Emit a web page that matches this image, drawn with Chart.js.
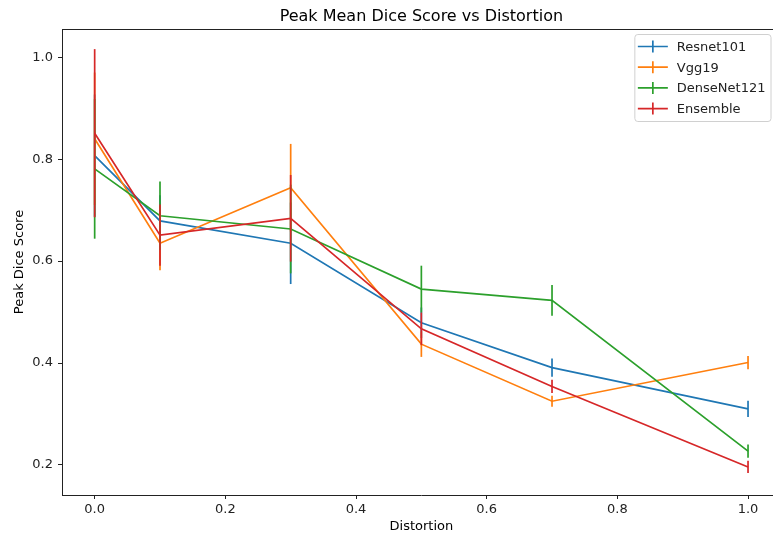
<!DOCTYPE html>
<html>
<head>
<meta charset="utf-8">
<script src="https://cdn.jsdelivr.net/npm/chart.js@4.4.1/dist/chart.umd.min.js"></script>
<style>
  html, body { margin: 0; padding: 0; background: #fff; overflow: hidden; }
  #wrap { width: 773px; height: 537px; overflow: hidden; }
</style>
</head>
<body>
<div id="wrap"><canvas id="graph" width="800" height="537"></canvas></div>
<script>
// distortion levels on the x axis
const distortion = [0.0, 0.1, 0.3, 0.5, 0.7, 1.0];

// peak mean dice per model, with +/- spread for the error bars
const resnetMean = [0.807, 0.679, 0.635, 0.479, 0.391, 0.310];
const resnetErr  = [0.120, 0.050, 0.080, 0.030, 0.018, 0.016];
const vggMean    = [0.840, 0.635, 0.744, 0.437, 0.325, 0.401];
const vggErr     = [0.130, 0.053, 0.086, 0.025, 0.011, 0.013];
const denseMean  = [0.781, 0.689, 0.663, 0.545, 0.523, 0.227];
const denseErr   = [0.137, 0.067, 0.087, 0.046, 0.030, 0.013];
const ensMean    = [0.851, 0.651, 0.684, 0.467, 0.354, 0.196];
const ensErr     = [0.165, 0.060, 0.085, 0.032, 0.013, 0.012];

const xTicks = [0.0, 0.2, 0.4, 0.6, 0.8, 1.0];
const yTicks = [0.2, 0.4, 0.6, 0.8, 1.0];

const FONT = "'DejaVu Sans', sans-serif";
const INK = "#222";

const series = [
  { label: "Resnet101",   mean: resnetMean, err: resnetErr, color: "#1f77b4" },
  { label: "Vgg19",       mean: vggMean,    err: vggErr,    color: "#ff7f0e" },
  { label: "DenseNet121", mean: denseMean,  err: denseErr,  color: "#2ca02c" },
  { label: "Ensemble",    mean: ensMean,    err: ensErr,    color: "#d62728" }
];

const datasets = series.map((s, i) => ({
  label: s.label,
  data: distortion.map((x, j) => ({ x, y: s.mean[j] })),
  err: s.err,
  borderColor: s.color,
  backgroundColor: s.color,
  borderWidth: 1.7,
  pointRadius: 0,
  tension: 0,
  fill: false,
  order: series.length - i   // later series drawn on top
}));

// vertical error bars, drawn right after each line
const errorBars = {
  id: "errorBars",
  afterDatasetDraw(chart, args) {
    const ds = chart.data.datasets[args.index];
    const { ctx, scales: { x, y } } = chart;
    ctx.save();
    ctx.strokeStyle = ds.borderColor;
    ctx.lineWidth = 1.7;
    ds.data.forEach((p, j) => {
      const px = x.getPixelForValue(p.x);
      ctx.beginPath();
      ctx.moveTo(px, y.getPixelForValue(p.y - ds.err[j]));
      ctx.lineTo(px, y.getPixelForValue(p.y + ds.err[j]));
      ctx.stroke();
    });
    ctx.restore();
  }
};

// title, top spine and errorbar-style legend
const decorations = {
  id: "decorations",
  afterDraw(chart) {
    const { ctx, chartArea: a } = chart;
    ctx.save();

    ctx.strokeStyle = INK;
    ctx.lineWidth = 1;
    ctx.beginPath();
    ctx.moveTo(a.left, a.top + 0.5);
    ctx.lineTo(a.right, a.top + 0.5);
    ctx.stroke();

    ctx.fillStyle = "#000";
    ctx.font = "16px " + FONT;
    ctx.textAlign = "center";
    ctx.textBaseline = "alphabetic";
    ctx.fillText("Peak Mean Dice Score vs Distortion", (a.left + a.right) / 2, 21);

    ctx.font = "13px " + FONT;
    const textW = Math.max(...series.map(s => ctx.measureText(s.label).width));
    const w = 42 + textW + 5.5;
    const h = 87;
    const bx = a.right - 9.7 - w;
    const by = a.top + 5.5;
    ctx.beginPath();
    ctx.roundRect(bx, by, w, h, 3);
    ctx.fillStyle = "rgba(255,255,255,0.8)";
    ctx.fill();
    ctx.strokeStyle = "#d0d0d0";
    ctx.stroke();

    ctx.textAlign = "left";
    ctx.textBaseline = "middle";
    series.forEach((s, i) => {
      const cy = by + 12 + i * 20.7;
      ctx.strokeStyle = s.color;
      ctx.lineWidth = 1.7;
      ctx.beginPath();
      ctx.moveTo(bx + 3, cy);
      ctx.lineTo(bx + 33, cy);
      ctx.moveTo(bx + 18, cy - 6);
      ctx.lineTo(bx + 18, cy + 6);
      ctx.stroke();
      ctx.fillStyle = INK;
      ctx.fillText(s.label, bx + 42, cy + 1);
    });
    ctx.restore();
  }
};

const ctx = document.getElementById("graph").getContext("2d");

new Chart(ctx, {
  type: "line",
  data: { datasets },
  options: {
    responsive: false,
    animation: false,
    // plot area runs past the visible 773px, so the right spine is cut off
    layout: { padding: { top: 29, right: 19.3, left: 0, bottom: 0 } },
    scales: {
      x: {
        type: "linear",
        min: -0.05,
        max: 1.05,
        afterBuildTicks: s => { s.ticks = xTicks.map(v => ({ value: v })); },
        afterFit: s => { s.height = 42; },
        ticks: {
          callback: v => v.toFixed(1),
          font: { family: FONT, size: 13 },
          color: INK,
          padding: 3,
          maxRotation: 0,
          autoSkip: false
        },
        grid: { drawOnChartArea: false, drawTicks: true, tickLength: 4, color: INK },
        border: { display: true, color: INK, width: 1 },
        title: {
          display: true,
          text: "Distortion",
          font: { family: FONT, size: 13 },
          color: "#000",
          padding: { top: 4, bottom: 3 }
        }
      },
      y: {
        type: "linear",
        min: 0.141,
        max: 1.0555,
        afterBuildTicks: s => { s.ticks = yTicks.map(v => ({ value: v })); },
        afterFit: s => { s.width = 62; },
        ticks: {
          callback: v => v.toFixed(1),
          font: { family: FONT, size: 13 },
          color: INK,
          padding: 5
        },
        grid: { drawOnChartArea: false, drawTicks: true, tickLength: 4, color: INK },
        border: { display: true, color: INK, width: 1 },
        title: {
          display: true,
          text: "Peak Dice Score",
          font: { family: FONT, size: 13 },
          color: "#000",
          padding: { top: 12, bottom: 0 }
        }
      }
    },
    plugins: {
      legend: { display: false },
      title: { display: false },
      tooltip: { enabled: false }
    }
  },
  plugins: [errorBars, decorations]
});
</script>
</body>
</html>
